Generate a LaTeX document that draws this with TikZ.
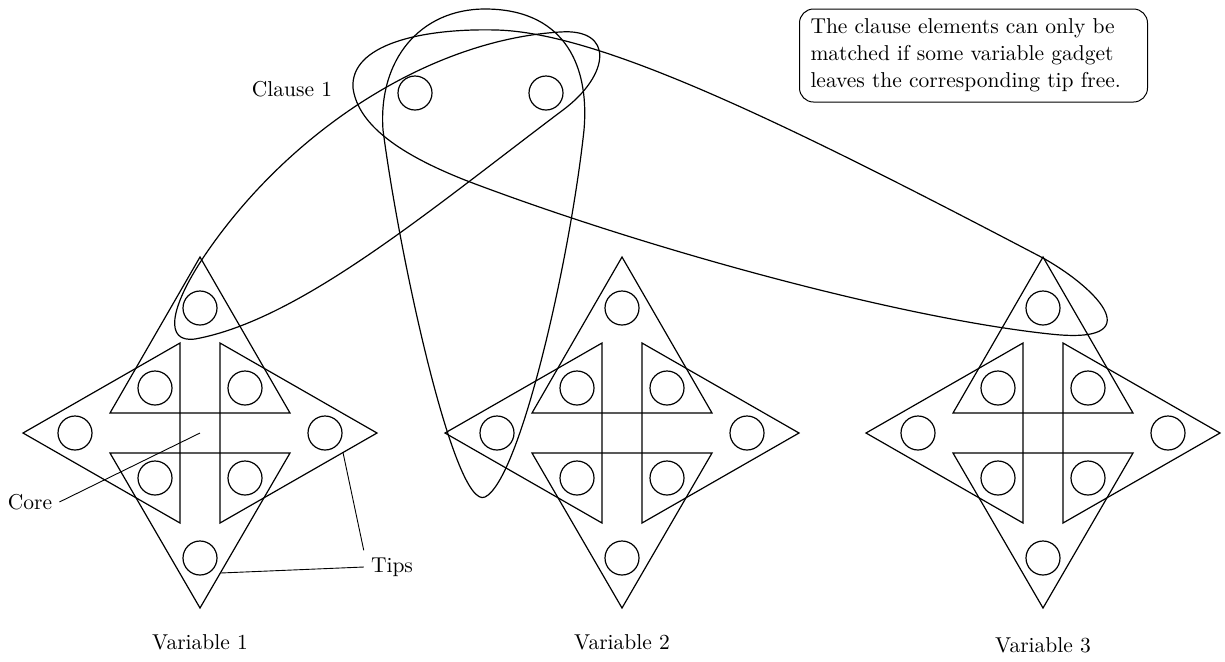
\documentclass[tikz,border=0pt]{standalone}
\usepackage{tikz}
\usetikzlibrary{positioning}

\begin{document}
\begin{tikzpicture}[x=0.5pt, y=-0.5pt, line width=0.6pt,
  every node/.style={font=\fontsize{10.75}{13.5}\selectfont},
  elem/.style={draw, circle, minimum size=17pt, inner sep=0pt},
  hedge/.style={line width=0.6pt},
  callout/.style={line width=0.45pt},
  notebox/.style={draw, rounded corners=7pt, align=left, text width=163pt,
    inner xsep=5.5pt, minimum height=46.5pt, line width=0.5pt}]
\useasboundingbox (0,0) rectangle (1225,661);

% variable gadgets
\foreach \i/\cx/\ly in {1/200/642, 2/622/642, 3/1043/645} {
  \begin{scope}[shift={(\cx,433)}]
    \coordinate (v\i-c) at (0,0);
    \draw (0,-176) -- (-90,-20) -- (90,-20) -- cycle;
    \draw (0,175) -- (-90,20) -- (90,20) -- cycle;
    \draw (-177,0) -- (-20,-90) -- (-20,90) -- cycle;
    \draw (177,0) -- (20,-90) -- (20,90) -- cycle;
    \node[elem] (v\i-t) at (0,-125) {};
    \node[elem] (v\i-b) at (0,125) {};
    \node[elem] (v\i-l) at (-125,0) {};
    \node[elem] (v\i-r) at (125,0) {};
    \node[elem] (v\i-tl) at (-45,-45) {};
    \node[elem] (v\i-tr) at (45,-45) {};
    \node[elem] (v\i-bl) at (-45,45) {};
    \node[elem] (v\i-br) at (45,45) {};
    \coordinate (v\i-re) at (143,19.5);
    \coordinate (v\i-be) at (20.3,140);
    \node (v\i-lab) at (0,\ly-433) {Variable \i};
  \end{scope}
}

% clause gadget
\node[elem] (c1a) at (415,93) {};
\node[elem] (c1b) at (546,93) {};
\node (c1lab) at (292,89) {Clause 1};

% hyperedges: both clause elements plus one tip
\draw[hedge] (195,339) .. controls (165,343) and (168,310) .. (205,255)
  .. controls (290,130) and (430,40) .. (560,32)
  .. controls (615,28) and (610,75) .. (563,110)
  .. controls (430,210) and (300,320) .. cycle;
\draw[hedge] (485,9) .. controls (560,9) and (590,60) .. (584,130)
  .. controls (570,260) and (520,480) .. (485,497)
  .. controls (455,511) and (400,260) .. (383,130)
  .. controls (378,60) and (420,9) .. cycle;
\draw[hedge] (353,88) .. controls (350,45) and (420,28) .. (497,30)
  .. controls (600,33) and (780,120) .. (1043,258)
  .. controls (1100,290) and (1150,345) .. (1050,334)
  .. controls (900,318) and (650,250) .. (470,182)
  .. controls (400,155) and (358,125) .. cycle;

% labels
\node (core) at (30,502) {Core};
\draw[callout] (core.east) -- (v1-c);
\node (tips) at (392,567) {Tips};
\draw[callout] (tips.west) -- (v1-be);
\draw[callout] (tips.north west) -- (v1-re);

\node[notebox] (note) at (973.5,55.5) {The clause elements can only be\\
  matched if some variable gadget\\ leaves the corresponding tip free.};
\end{tikzpicture}
\end{document}
